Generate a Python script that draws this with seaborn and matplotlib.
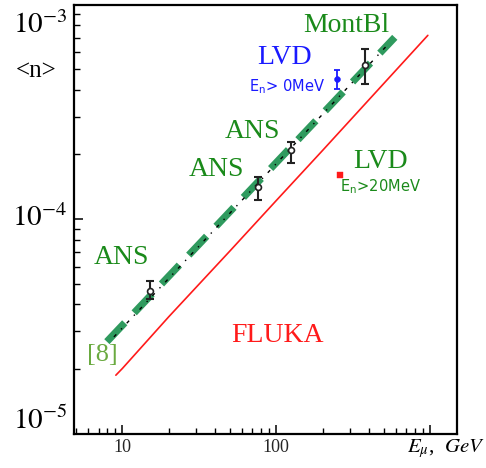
import numpy as np
import pandas as pd
import matplotlib
matplotlib.use("Agg")
import matplotlib.pyplot as plt
import matplotlib.ticker as mticker
from matplotlib.transforms import ScaledTranslation
import seaborn as sns

sns.set_style("white")
plt.rcParams['font.family'] = ['Liberation Serif', 'DejaVu Sans']
plt.rcParams['mathtext.fontset'] = 'stix'

# ---------------- data ----------------
# measured points (black): ANS, ANS, ANS, MontBl
pts_E = [15.1, 75.9, 124.0, 376.0]
pts_n = [4.6e-5, 1.41e-4, 2.09e-4, 5.2e-4]
pts_err_lo = [0.35e-5, 0.18e-4, 0.27e-4, 0.95e-4]
pts_err_hi = [0.55e-5, 0.16e-4, 0.19e-4, 1.02e-4]

# LVD, En > 0 MeV (blue)
lvd0_E = [248.0]
lvd0_n = [4.51e-4]
lvd0_lo = [0.48e-4]
lvd0_hi = [0.42e-4]

# LVD, En > 20 MeV (red square)
lvd20_E = [258.0]
lvd20_n = [1.60e-4]

# fit [8] (thick green dashed) and black dash-dot fit
fit8_E = [7.93, 588.0]
fit8_n = [2.68e-5, 7.03e-4]
fitk_E = [8.81, 546.0]
fitk_n = [2.82e-5, 6.65e-4]

# FLUKA (red)
fluka_E = [9.07, 10.0, 20.0, 50.0, 100.0, 200.0, 500.0, 964.0]
fluka_n = [1.87e-5, 2.01e-5, 3.50e-5, 7.1e-5, 1.22e-4, 2.09e-4, 4.29e-4, 7.18e-4]

# ---------------- figure ----------------
fig = plt.figure(figsize=(4.86, 4.68), dpi=100)
ax = fig.add_axes([74/486, 1-433.5/468, (456.5-74)/486, (433.5-4.5)/468])
ax.set_xscale('log')
ax.set_yscale('log')
ax.set_xlim(4.85, 1480)
ax.set_ylim(1.0e-5, 1.0e-3)

green_line = '#2f9a5e'
sns.lineplot(x=fit8_E, y=fit8_n, ax=ax, color=green_line, lw=5.2,
             dashes=False, solid_capstyle='butt', zorder=2).lines[-1].set_dashes((3.6, 1.9))
sns.lineplot(x=fitk_E, y=fitk_n, ax=ax, color='black', lw=1.0, zorder=3)
ax.lines[-1].set_dashes((2.5, 5, 1, 5))
sns.lineplot(x=fluka_E, y=fluka_n, ax=ax, color='#ff1a1a', lw=1.2, zorder=3)

ax.errorbar(pts_E, pts_n, yerr=[pts_err_lo, pts_err_hi], fmt='none',
            ecolor='#222222', elinewidth=1.5, capsize=2.6, capthick=1.5, zorder=4)
sns.scatterplot(x=pts_E, y=pts_n, ax=ax, marker='o', s=18, facecolor='white',
                edgecolor='#222222', linewidth=1.2, zorder=5)

ax.errorbar(lvd0_E, lvd0_n, yerr=[lvd0_lo, lvd0_hi], fmt='none',
            ecolor='#1a1aff', elinewidth=1.3, capsize=2, capthick=1.3, zorder=4)
sns.scatterplot(x=lvd0_E, y=lvd0_n, ax=ax, marker='o', s=18, color='#1a1aff',
                edgecolor='#1a1aff', zorder=5)
sns.scatterplot(x=lvd20_E, y=lvd20_n, ax=ax, marker='s', s=14, color='#ff1a1a',
                edgecolor='#ff1a1a', zorder=5)

# ---------------- axes styling ----------------
for side in ['left', 'bottom', 'top', 'right']:
    ax.spines[side].set_color('black')
    ax.spines[side].set_linewidth(1.6)

ax.set_xticks([10, 100, 1000])
ax.set_xticklabels(['10', '100', ''])
ax.xaxis.set_minor_locator(mticker.LogLocator(base=10, subs=np.arange(2, 10)))
ax.xaxis.set_minor_formatter(mticker.NullFormatter())
ax.yaxis.set_minor_locator(mticker.LogLocator(base=10, subs=np.arange(2, 10)))
ax.yaxis.set_minor_formatter(mticker.NullFormatter())
ax.set_yticks([1e-5, 1e-4, 1e-3])
ax.set_yticklabels([])
ax.tick_params(axis='both', which='major', direction='in', length=6.5, width=1.1,
               color='black', top=False, right=False, left=True, bottom=True)
ax.tick_params(axis='both', which='minor', direction='in', length=4, width=1.0,
               color='black', top=False, right=False, left=True, bottom=True)
ax.tick_params(axis='x', which='major', labelsize=13, pad=4)
ax.grid(False)

ytr = ax.get_yaxis_transform()
ylabels = [(1e-3, r'$10^{-3}$', -21), (1e-4, r'$10^{-4}$', 1), (1e-5, r'$10^{-5}$', 13)]
for val, lab, dy in ylabels:
    ax.text(-0.017, val, lab, transform=ytr + ScaledTranslation(0, dy/100, fig.dpi_scale_trans),
            ha='right', va='center', fontsize=21, color='black')

ax.text(-0.1, 1e-3, r'<n>', transform=ytr + ScaledTranslation(0, -66/100, fig.dpi_scale_trans),
        ha='center', va='center', fontsize=18, color='black')

fig.text(485/486, 1-449/468, r'$E_{\mu}$,  $\it{GeV}$', ha='right', va='center',
         fontsize=15, color='black')

# ---------------- annotations ----------------
def ptext(x, y, s, **kw):
    fig.text(x/486, 1-y/468, s, ha='center', va='center', **kw)

tgreen = '#1a8a1a'
ptext(346, 25, 'MontBl', fontsize=20, color=tgreen)
ptext(285, 57, 'LVD', fontsize=20, color='#1a1aff')
ptext(287, 87, r'E$_\mathregular{n}$> 0MeV', fontsize=10.5, color='#1a1aff',
      family=['DejaVu Sans'])
ptext(252, 131, 'ANS', fontsize=20, color=tgreen)
ptext(216, 169, 'ANS', fontsize=20, color=tgreen)
ptext(121, 258, 'ANS', fontsize=20, color=tgreen)
ptext(381, 161, 'LVD', fontsize=20, color=tgreen)
ptext(381, 187, r'E$_\mathregular{n}$>20MeV', fontsize=10.5, color=tgreen,
      family=['DejaVu Sans'])
ptext(277, 336, 'FLUKA', fontsize=20, color='#ff1a1a')
ptext(102, 355, '[8]', fontsize=19, color='#6aaa40')

fig.savefig('out.png', dpi=100)
